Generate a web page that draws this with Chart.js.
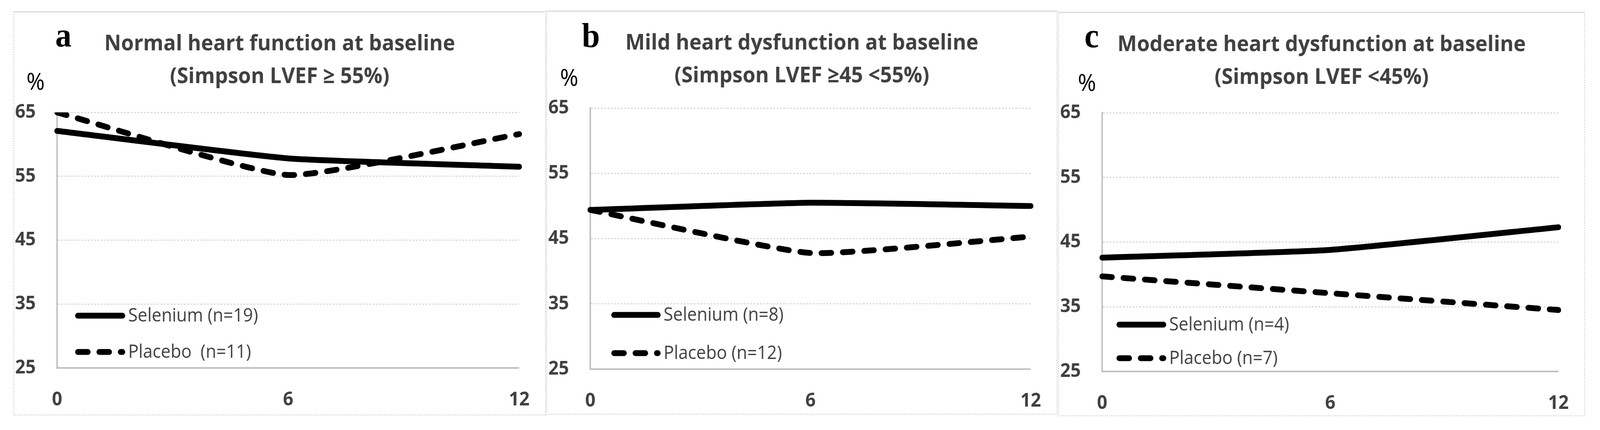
<!DOCTYPE html>
<html><head><meta charset="utf-8">
<script src="https://cdn.jsdelivr.net/npm/chart.js@4.4.1/dist/chart.umd.min.js"></script>
<style>
html,body{margin:0;padding:0;background:#fff;overflow:hidden;}
#page{width:4345px;height:1102px;position:absolute;left:0;top:0;transform-origin:0 0;}
.panel{position:absolute;box-sizing:border-box;border:3px dotted #d9d9d9;border-top-style:solid;}
canvas{position:absolute;}
.letter{position:absolute;font-family:"Liberation Serif";font-weight:bold;font-size:88px;line-height:1;color:#000;white-space:nowrap;}
.pct{position:absolute;font-family:"Open Sans";font-size:60px;line-height:1;color:#000;}
</style></head><body>
<div id="page">
<div class="panel" style="left:36px;top:29px;width:1447px;height:1036px"></div>
<div class="panel" style="left:1483px;top:27px;width:1389px;height:1036px"></div>
<div class="panel" style="left:2873px;top:30px;width:1432px;height:1037px"></div>
<canvas id="ca" style="left:36px;top:29px"></canvas>
<canvas id="cb" style="left:1483px;top:27px"></canvas>
<canvas id="cc" style="left:2873px;top:30px"></canvas>
<div class="letter" style="left:150px;top:46px">a</div>
<div class="letter" style="left:1580px;top:48px">b</div>
<div class="letter" style="left:2945px;top:48px">c</div>
<div class="pct" style="left:72px;top:177px">%</div>
<div class="pct" style="left:1521px;top:167px">%</div>
<div class="pct" style="left:2927px;top:180px">%</div>
</div>

<script>
// ---- data ----
const months = ['0', '6', '12'];
const yTicks = [25, 35, 45, 55, 65];

const titleA = ['Normal heart function at baseline', '(Simpson LVEF \u2265 55%)'];
const titleB = ['Mild heart dysfunction at baseline', '(Simpson LVEF \u226545 <55%)'];
const titleC = ['Moderate heart dysfunction at baseline', '(Simpson LVEF <45%)'];

const seleniumA = [62.1, 57.8, 56.5];
const placeboA  = [65.0, 55.2, 61.6];
const seleniumB = [49.4, 50.5, 50.0];
const placeboB  = [49.4, 42.8, 45.3];
const seleniumC = [42.6, 43.8, 47.3];
const placeboC  = [39.7, 37.1, 34.5];

const labelsA = ['Selenium (n=19)', 'Placebo  (n=11)'];
const labelsB = ['Selenium (n=8)', 'Placebo (n=12)'];
const labelsC = ['Selenium (n=4)', 'Placebo (n=7)'];

// ---- fit the 4345x1102 layout to the actual viewport ----
(function () {
  const sx = window.innerWidth / 4345, sy = window.innerHeight / 1102;
  document.getElementById('page').style.transform = 'scale(' + sx + ',' + sy + ')';
})();

// ---- drawing ----
const insideLegend = {
  id: 'insideLegend',
  afterDatasetsDraw(chart, args, opts) {
    const {ctx, chartArea: ca} = chart;
    chart.data.datasets.forEach((ds, i) => {
      const y = ca.bottom + opts.rows[i];
      const x0 = ca.left + opts.x;
      const lw = ds.borderWidth;
      ctx.save();
      ctx.strokeStyle = ds.borderColor;
      ctx.lineWidth = lw;
      ctx.lineCap = 'round';
      ctx.setLineDash(ds.borderDash || []);
      ctx.beginPath();
      ctx.moveTo(x0 + lw / 2, y);
      ctx.lineTo(x0 + opts.len - lw / 2, y);
      ctx.stroke();
      ctx.setLineDash([]);
      ctx.font = opts.font;
      ctx.fillStyle = opts.color;
      ctx.textBaseline = 'middle';
      ctx.textAlign = 'left';
      ctx.fillText(ds.label, x0 + opts.len + opts.gap, y + 2);
      ctx.restore();
    });
  }
};

function makeChart(id, cfg) {
  const el = document.getElementById(id);
  el.width = cfg.w; el.height = cfg.h;
  el.style.width = cfg.w + 'px'; el.style.height = cfg.h + 'px';
  const lineStyle = {borderColor: '#000', backgroundColor: '#000', borderWidth: 15,
    borderCapStyle: 'round', borderJoinStyle: 'round', tension: 0.15, pointRadius: 0, fill: false};
  return new Chart(el, {
    type: 'line',
    data: {
      labels: months,
      datasets: [
        Object.assign({label: cfg.labels[0], data: cfg.sel}, lineStyle),
        Object.assign({label: cfg.labels[1], data: cfg.pla, borderDash: [27, 31]}, lineStyle)
      ]
    },
    plugins: [insideLegend],
    options: {
      responsive: false, animation: false, devicePixelRatio: 1,
      layout: {padding: 0},
      plugins: {
        legend: {display: false},
        tooltip: {enabled: false},
        title: {display: true, text: cfg.title, color: '#404040',
          font: {family: 'Open Sans', weight: 'bold', size: 56, lineHeight: '84px'},
          padding: {top: cfg.tTop, bottom: cfg.tBot}},
        insideLegend: {x: cfg.lx, rows: cfg.lrows, len: cfg.llen, gap: 8,
          font: '47px "Open Sans"', color: '#404040'}
      },
      scales: {
        x: {
          grid: {display: false},
          border: {display: true, color: '#bfbfbf', width: 4},
          ticks: {color: '#404040', padding: 45, maxRotation: 0,
            font: {family: 'Open Sans', weight: 'bold', size: 49}},
          afterFit: s => { s.height = cfg.xH; }
        },
        y: {
          min: 25, max: 65,
          afterBuildTicks: s => { s.ticks = yTicks.map(v => ({value: v})); },
          grid: {color: '#d9d9d9', lineWidth: 3, drawTicks: false},
          border: {display: true, color: '#bfbfbf', width: 4, dash: [5, 4]},
          ticks: {color: '#404040', padding: 58,
            font: {family: 'Open Sans', weight: 'bold', size: 49}},
          afterFit: s => { s.width = cfg.yW; }
        },
        yR: {
          position: 'right', display: true,
          grid: {display: false}, border: {display: false}, ticks: {display: false},
          afterFit: s => { s.width = cfg.rW; }
        }
      }
    }
  });
}

makeChart('ca', {w: 1447, h: 1036, yW: 119, rW: 55, xH: 122, tTop: 42, tBot: 49,
  title: titleA, sel: seleniumA, pla: placeboA, labels: labelsA,
  lx: 49, lrows: [-134, -41], llen: 136});
makeChart('cb', {w: 1389, h: 1036, yW: 120, rW: 54, xH: 117, tTop: 42, tBot: 40,
  title: titleB, sel: seleniumB, pla: placeboB, labels: labelsB,
  lx: 57, lrows: [-139, -41], llen: 134});
makeChart('cc', {w: 1432, h: 1037, yW: 120, rW: 58, xH: 115, tTop: 43, tBot: 48,
  title: titleC, sel: seleniumC, pla: placeboC, labels: labelsC,
  lx: 39, lrows: [-120, -34], llen: 135});
</script>
</body></html>
